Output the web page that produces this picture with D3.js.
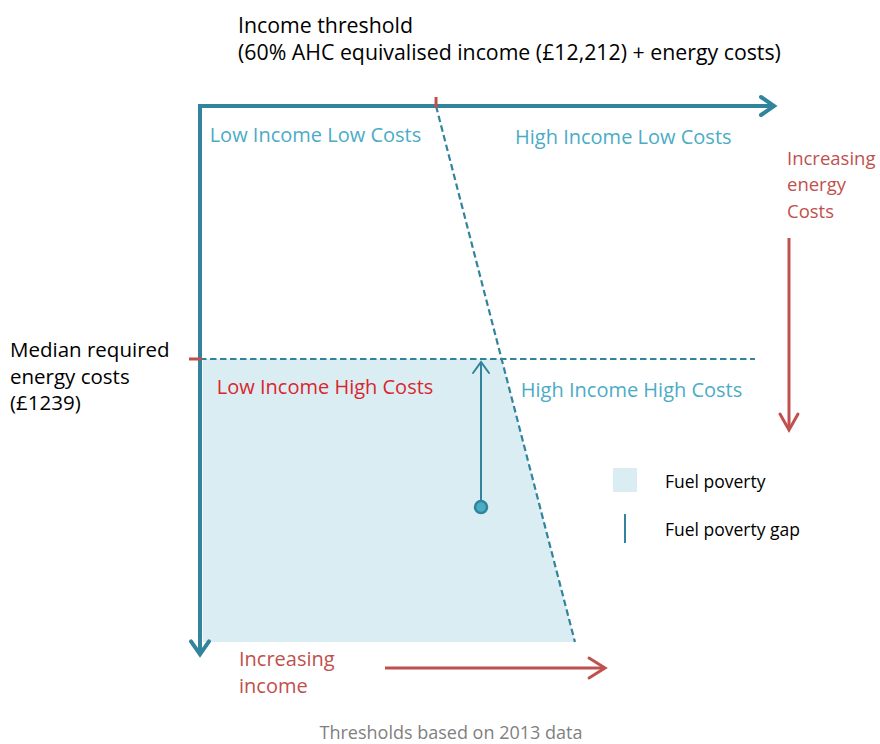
<!DOCTYPE html>
<html>
<head>
<meta charset="utf-8">
<script src="https://cdn.jsdelivr.net/npm/d3@7"></script>
<style>
body{margin:0;background:#fff}
text{font-family:"Open Sans",sans-serif}
</style>
</head>
<body>
<div id="chart"></div>
<script>
// values (income £, required energy costs £)
var incomeThreshold = 12212
var medianCost = 1239
var maxIncome = 29750
var maxCost = 2625
var axisEndCost = 2690
var thresholdLine = [{income:12212,cost:0},{income:19400,cost:2625}]
var household = {income:14540,cost:1964}
var quadrants = [
    {label:"Low Income Low Costs",income:500,cost:142,color:"#4bacc6"},
    {label:"High Income Low Costs",income:16300,cost:147,color:"#4bacc6"},
    {label:"Low Income High Costs",income:870,cost:1376,color:"#d9262d"},
    {label:"High Income High Costs",income:16600,cost:1386,color:"#4bacc6"}
]
var titleLines = ["Income threshold","(60% AHC equivalised income (£12,212) + energy costs)"]
var medianLines = ["Median required","energy costs","(£1239)"]
var costLines = ["Increasing","energy","Costs"]
var incomeLines = ["Increasing","income"]
var legendItems = ["Fuel poverty","Fuel poverty gap"]

var teal = "#31849b", red = "#c0504d", fillBlue = "#daedf3"

var svg = d3.select("#chart").append("svg")
    .attr("width",880).attr("height",744)

var x = d3.scaleLinear().domain([0,maxIncome]).range([200,775])
var y = d3.scaleLinear().domain([0,maxCost]).range([106,642])

function slopeX(c){
    var a = thresholdLine[0], b = thresholdLine[1]
    return a.income + (b.income-a.income)*(c-a.cost)/(b.cost-a.cost)
}

// fuel poverty area
var poly = [
    [0,medianCost],[slopeX(medianCost),medianCost],
    [thresholdLine[1].income,maxCost],[0,maxCost]
]
svg.append("path")
    .attr("d",d3.line().x(d=>d[0]==0 ? x(0)+3 : x(d[0])).y(d=>y(d[1]))(poly))
    .attr("fill",fillBlue)

// median cost dashed line
svg.append("line")
    .attr("x1",x(0)).attr("x2",755)
    .attr("y1",y(medianCost)).attr("y2",y(medianCost))
    .attr("stroke",teal).attr("stroke-width",2)
    .attr("stroke-dasharray","6.5,3.5")

// threshold slanted dashed line
svg.append("line")
    .attr("x1",x(thresholdLine[0].income)).attr("y1",y(thresholdLine[0].cost))
    .attr("x2",x(thresholdLine[1].income)).attr("y2",y(thresholdLine[1].cost))
    .attr("stroke",teal).attr("stroke-width",2.2)
    .attr("stroke-dasharray","6.5,3.5")

function arrowHead(g,tx,ty,dir,len,half,color,w){
    var pts
    if(dir=="right") pts=[[tx-len,ty-half],[tx,ty],[tx-len,ty+half]]
    if(dir=="down") pts=[[tx-half,ty-len],[tx,ty],[tx+half,ty-len]]
    if(dir=="up") pts=[[tx-half,ty+len],[tx,ty],[tx+half,ty+len]]
    g.append("path").attr("d",d3.line()(pts))
        .attr("fill","none").attr("stroke",color).attr("stroke-width",w)
        .attr("stroke-linecap","round").attr("stroke-linejoin","miter")
}

// axes
svg.append("path")
    .attr("d",d3.line()([[x(0),y(axisEndCost)-3],[x(0),y(0)],[x(maxIncome),y(0)]]))
    .attr("fill","none").attr("stroke",teal).attr("stroke-width",4)
    .attr("stroke-linejoin","miter")
arrowHead(svg,x(maxIncome)-1,y(0),"right",13,9,teal,4)
arrowHead(svg,x(0),y(axisEndCost)-1,"down",13,9,teal,4)

// red ticks
svg.append("line")
    .attr("x1",x(incomeThreshold)).attr("x2",x(incomeThreshold))
    .attr("y1",97).attr("y2",108)
    .attr("stroke",red).attr("stroke-width",3)
svg.append("line")
    .attr("x1",189).attr("x2",202)
    .attr("y1",y(medianCost)).attr("y2",y(medianCost))
    .attr("stroke",red).attr("stroke-width",3)

// fuel poverty gap arrow
svg.append("line")
    .attr("x1",x(household.income)).attr("x2",x(household.income))
    .attr("y1",y(household.cost)).attr("y2",y(medianCost)+3)
    .attr("stroke",teal).attr("stroke-width",2)
arrowHead(svg,x(household.income),y(medianCost)+3,"up",11,8,teal,2)
svg.append("circle")
    .attr("cx",x(household.income)).attr("cy",y(household.cost))
    .attr("r",6).attr("fill","#4bacc6").attr("stroke",teal).attr("stroke-width",2.5)

// red direction arrows
svg.append("line").attr("x1",385).attr("x2",604).attr("y1",668).attr("y2",668)
    .attr("stroke",red).attr("stroke-width",3)
arrowHead(svg,605,668,"right",16,10,red,3)
svg.append("line").attr("x1",789).attr("x2",789).attr("y1",238).attr("y2",429)
    .attr("stroke",red).attr("stroke-width",3)
arrowHead(svg,789,430,"down",16,9,red,3)

// quadrant labels
svg.selectAll("quad")
    .data(quadrants)
    .enter()
    .append("text")
    .text(d=>d.label)
    .attr("x",d=>x(d.income))
    .attr("y",d=>y(d.cost))
    .attr("dominant-baseline","central")
    .attr("font-size",20)
    .attr("fill",d=>d.color)

function block(lines,x0,y0,dy,color,size){
    svg.append("g").selectAll("text")
        .data(lines)
        .enter()
        .append("text")
        .text(d=>d)
        .attr("x",x0)
        .attr("y",(d,i)=>y0+i*dy)
        .attr("dominant-baseline","central")
        .attr("font-size",size)
        .attr("fill",color)
}
block(titleLines,238,24,27.5,"#000",21.3)
block(medianLines,10,349,26.5,"#000",20.5)
block(costLines,787,157,26.5,red,18.5)
block(incomeLines,239,658,27,red,20)

// legend
svg.append("rect").attr("x",613).attr("y",468).attr("width",24).attr("height",24)
    .attr("fill",fillBlue)
svg.append("line").attr("x1",625).attr("x2",625).attr("y1",514).attr("y2",543)
    .attr("stroke",teal).attr("stroke-width",2)
svg.selectAll("leg")
    .data(legendItems)
    .enter()
    .append("text")
    .text(d=>d)
    .attr("x",665)
    .attr("y",(d,i)=>481+i*48)
    .attr("dominant-baseline","central")
    .attr("font-size",17.5)
    .attr("fill","#000")

svg.append("text")
    .text("Thresholds based on 2013 data")
    .attr("x",451).attr("y",732)
    .attr("text-anchor","middle")
    .attr("dominant-baseline","central")
    .attr("font-size",18)
    .attr("fill","#7f7f7f")
</script>
</body>
</html>
